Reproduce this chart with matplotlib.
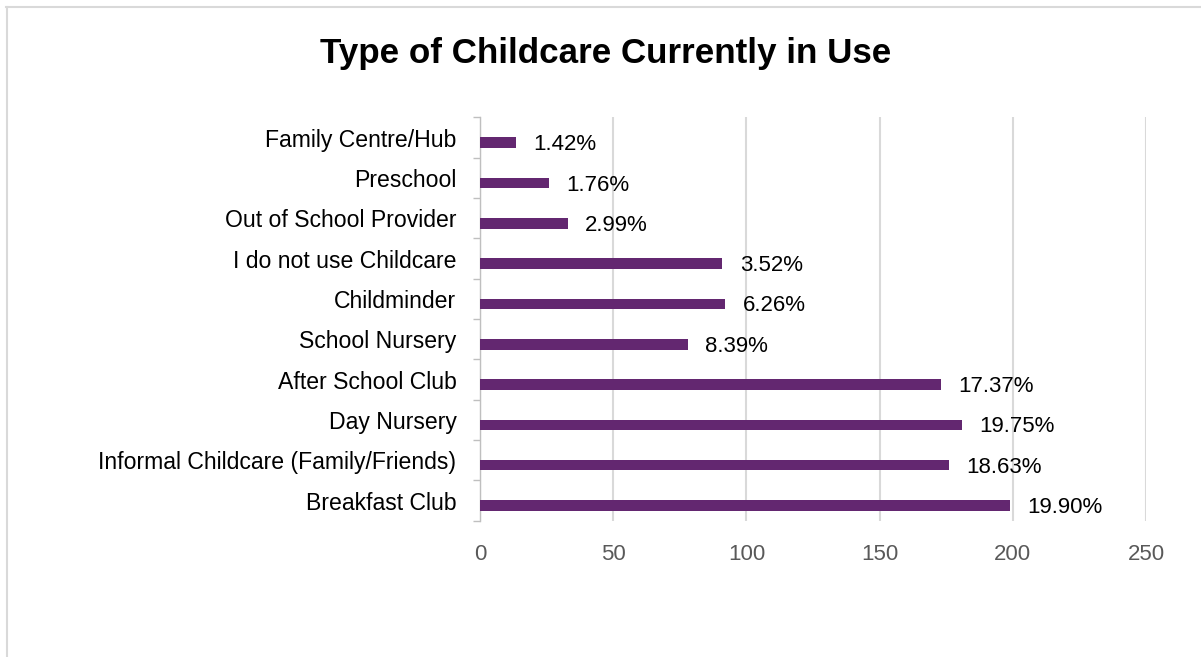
import matplotlib
matplotlib.use("Agg")
import matplotlib.pyplot as plt
from matplotlib.lines import Line2D
import numpy as np

categories = ["Breakfast Club", "Informal Childcare (Family/Friends)", "Day Nursery",
              "After School Club", "School Nursery", "Childminder",
              "I do not use Childcare", "Out of School Provider", "Preschool",
              "Family Centre/Hub"]
counts = [199, 176, 181, 173, 78, 92, 91, 33, 26, 13.5]
pct_labels = ["19.90%", "18.63%", "19.75%", "17.37%", "8.39%", "6.26%",
              "3.52%", "2.99%", "1.76%", "1.42%"]
xticks = [0, 50, 100, 150, 200, 250]

plt.rcParams['font.family'] = ['Liberation Sans', 'DejaVu Sans']

fig = plt.figure(figsize=(12.01, 6.57), dpi=100)
ax = fig.add_axes([0.3997, 0.2075, 0.5546, 0.6137])

pos = np.arange(len(categories))
offset = 0.125
ax.barh(pos - offset, counts, height=0.26, color="#632770", zorder=3)
for p, c, lab in zip(pos, counts, pct_labels):
    ax.text(c + 6.5, p - offset - 0.05, lab, va="center", ha="left",
            fontsize=16, color="black")

ax.set_xlim(0, 250)
ax.set_ylim(-0.5, len(categories) - 0.5)
ax.set_xticks(xticks)
ax.set_xticklabels([str(t) for t in xticks])
ax.set_yticks(pos)
ax.set_yticklabels(categories, fontsize=16.6)
ax.set_yticks(np.arange(-0.5, len(categories), 1), minor=True)
ax.tick_params(axis="y", which="major", length=0, pad=17)
ax.tick_params(axis="y", which="minor", length=5, color="#bfbfbf", width=1)
ax.tick_params(axis="x", length=0, labelsize=16, labelcolor="#595959", pad=17)
ax.grid(axis="x", color="#d9d9d9", linewidth=1.5, zorder=0)
for s in ["top", "right", "bottom"]:
    ax.spines[s].set_visible(False)
ax.spines["left"].set_color("#bfbfbf")
ax.spines["left"].set_linewidth(1)

fig.text(0.504, 0.918, "Type of Childcare Currently in Use", ha="center",
         va="center", fontsize=25.2, fontweight="bold")

# chart border
fig.add_artist(Line2D([0.005, 1.0], [0.989, 0.989], color="#d9d9d9", linewidth=1.5,
                      transform=fig.transFigure))
fig.add_artist(Line2D([0.006, 0.006], [0.0, 0.989], color="#d9d9d9", linewidth=1.5,
                      transform=fig.transFigure))

fig.savefig("out.png", dpi=100)
